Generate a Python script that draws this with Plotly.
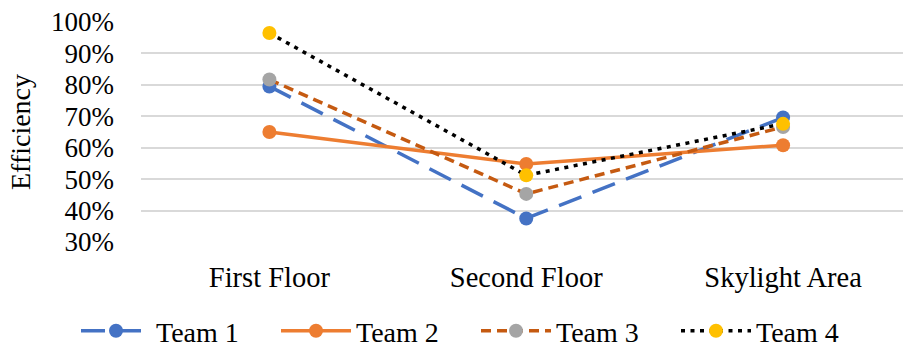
import plotly.graph_objects as go

# Efficiency by area for each team
areas = ["First Floor", "Second Floor", "Skylight Area"]
team_1 = [0.795, 0.375, 0.696]
team_2 = [0.650, 0.548, 0.608]
team_3 = [0.817, 0.453, 0.666]
team_4 = [0.965, 0.512, 0.676]
y_ticks = [0.3, 0.4, 0.5, 0.6, 0.7, 0.8, 0.9, 1.0]

FONT = "Liberation Serif, Times New Roman, serif"

series = [
    ("Team 1", team_1, "#4472C4", "#4472C4", "24px,12px"),
    ("Team 2", team_2, "#ED7D31", "#ED7D31", "solid"),
    ("Team 3", team_3, "#C55A11", "#A5A5A5", "10px,6px"),
    ("Team 4", team_4, "#000000", "#FFC000", "4px,5.5px"),
]

fig = go.Figure()
for name, vals, line_col, marker_col, dash in series:
    fig.add_trace(go.Scatter(
        x=areas, y=vals, name=name, mode="lines+markers",
        line=dict(color=line_col, width=3.5, dash=dash),
        marker=dict(color=marker_col, size=14),
        cliponaxis=False,
    ))

fig.update_layout(
    width=903, height=345,
    margin=dict(l=141, r=0, t=22, b=103, autoexpand=False),
    paper_bgcolor="white", plot_bgcolor="white",
    font=dict(family=FONT, color="black", size=27),
    showlegend=True,
    legend=dict(
        orientation="h", x=-0.0853, xanchor="left", y=-0.4045, yanchor="middle",
        font=dict(family=FONT, size=28, color="black"),
        itemwidth=70, entrywidth=115, entrywidthmode="pixels",
        bgcolor="rgba(0,0,0,0)",
    ),
    xaxis=dict(
        type="category", range=[-0.5, 2.467],
        showgrid=False, showline=False, zeroline=False,
        tickfont=dict(family=FONT, size=28.5, color="black"),
        ticks="", ticklabelstandoff=15,
    ),
    yaxis=dict(
        range=[0.3, 1.0], tickvals=y_ticks, tickformat=".0%",
        showgrid=True, gridcolor="#D9D9D9", gridwidth=1.5,
        zeroline=False, showline=False, ticks="",
        tickfont=dict(family=FONT, size=27, color="black"),
        ticklabelstandoff=26,
        title=dict(text="Efficiency", font=dict(family=FONT, size=28, color="black"), standoff=12),
    ),
)

fig.write_html("out.html")
